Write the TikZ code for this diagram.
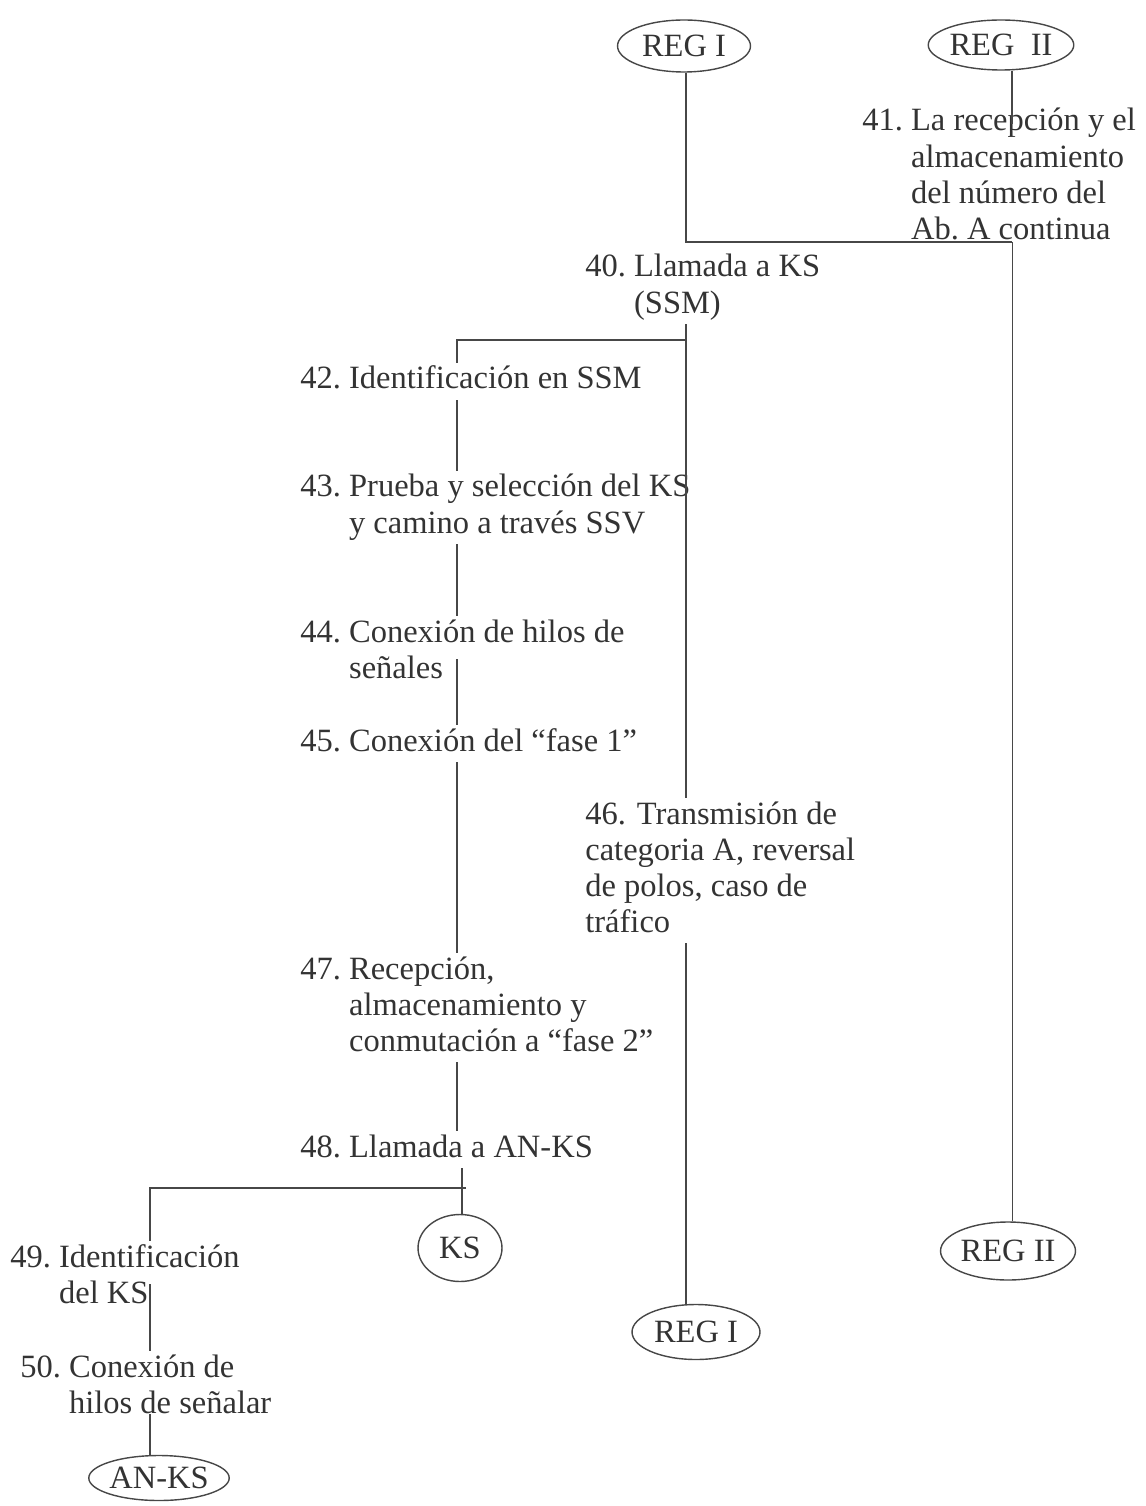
\documentclass[tikz,border=0pt]{standalone}
\usepackage{fontspec}
\setmainfont{Liberation Serif}
\usetikzlibrary{
    shapes.geometric,
    positioning,
    calc
}
\tikzset{
    % Colors
    ink color/.style={black!80},
    line color/.style={black!72},
    %
    % Nodes
    reg node/.style={ellipse,draw,line color,thick,text=black!80,inner sep=0pt},
    paso node/.style={anchor=base west,inner sep=0pt,text=black!80},
    %
    % Connectors
    link/.style={line color,line width=1.1pt},
    thin link/.style={line color,line width=0.5pt}
}
\tikzstyle{every node}=[font=\fontsize{18.5}{20.5}\selectfont]
\newcommand{\paso}[2]{\begin{tabular}[t]{@{}l@{~}l@{}}#1 & \begin{tabular}[t]{@{}l@{}}#2\end{tabular}\end{tabular}}

\begin{document}
\begin{tikzpicture}[x=0.02cm,y=-0.02cm]
        \useasboundingbox (0,0) rectangle (1145,1506);
        % columns
        \coordinate (colA) at (457,0);
        \coordinate (colB) at (686,0);
        \coordinate (colC) at (1012,0);
        \coordinate (colD) at (150,0);
        \coordinate (colE) at (462,0);
        % registers and sets
        \node[reg node, minimum width=2.66cm, minimum height=1.04cm] (regIa) at (684,46) {REG I};
        \node[reg node, minimum width=2.76cm, minimum height=1.0cm] (regIIa) at (1001,45) {REG\enspace II};
        \node[reg node, minimum width=2.7cm, minimum height=1.16cm] (regIIb) at (1008,1251) {REG II};
        \node[reg node, minimum width=2.56cm, minimum height=1.1cm] (regIb) at (696,1332) {REG I};
        \node[reg node, minimum width=1.68cm, minimum height=1.34cm] (ks) at (460,1248) {KS};
        \node[reg node, minimum width=2.36cm, minimum height=0.9cm] (anks) at (159,1478) {AN-KS};
        % steps
        \node[paso node] (p41) at (862,131) {\paso{41.}{La recepción y el\\almacenamiento\\del número del\\Ab.~A continua}};
        \node[paso node] (p40) at (585,277) {\paso{40.}{Llamada a KS\\(SSM)}};
        \node[paso node] (p42) at (300,389) {\paso{42.}{Identificación en SSM}};
        \node[paso node] (p43) at (300,497) {\paso{43.}{Prueba y selección del KS\\y camino a través SSV}};
        \node[paso node] (p44) at (300,642) {\paso{44.}{Conexión de hilos de\\señales}};
        \node[paso node] (p45) at (300,751) {\paso{45.}{Conexión del “fase 1”}};
        \node[paso node] (p46) at (585,824) {\begin{tabular}[t]{@{}l@{}}46. Transmisión de\\categoria A, reversal\\de polos, caso de\\tráfico\end{tabular}};
        \node[paso node] (p47) at (300,979) {\paso{47.}{Recepción,\\almacenamiento y\\conmutación a “fase 2”}};
        \node[paso node] (p48) at (300,1157) {\paso{48.}{Llamada a AN-KS}};
        \node[paso node] (p49) at (10,1267) {\paso{49.}{Identificación\\del KS}};
        \node[paso node] (p50) at (20,1377) {\paso{50.}{Conexión de\\hilos de señalar}};
        % junctions
        \coordinate (j40) at (686,242);
        \coordinate (j41) at (1012,242);
        \coordinate (e41) at (1012,124);
        \coordinate (j42) at (686,340);
        \coordinate (j48) at (466,1188);
        \coordinate (j49) at (150,1188);
        % connectors
        \draw[link] (regIa.south -| colB) -- (j40) -- (j41);
        \draw[thin link] (j41) -- (regIIb.north -| colC);
        \draw[link] (regIIa.south -| colC) -- (e41);
        \draw[link] (p40.south -| colB) -- (p46.north -| colB);
        \draw[link] (j42) -| (p42.north -| colA);
        \draw[link] (p42.south -| colA) -- (p43.north -| colA);
        \draw[link] (p43.south -| colA) -- (p44.north -| colA);
        \draw[link] ($(p44.south -| colA)+(0,-30)$) -- (p45.north -| colA);
        \draw[link] (p45.south -| colA) -- (p47.north -| colA);
        \draw[link] (p46.south -| colB) -- (regIb.north -| colB);
        \draw[link] (p47.south -| colA) -- (p48.north -| colA);
        \draw[link] (p48.south -| colE) -- (ks.north -| colE);
        \draw[link] (j48) -- (j49) -- (p49.north -| colD);
        \draw[link] ($(p49.south -| colD)+(0,-30)$) -- (p50.north -| colD);
        \draw[link] ($(p50.south -| colD)+(0,-10)$) -- (anks.north -| colD);
    \end{tikzpicture}
\end{document}
